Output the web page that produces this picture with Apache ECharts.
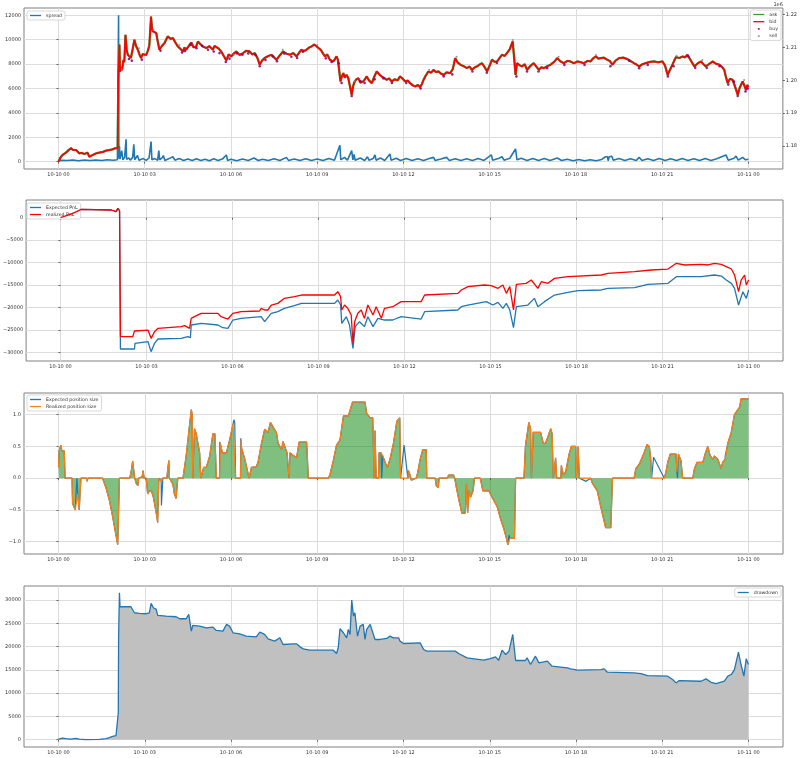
<!DOCTYPE html>
<html><head><meta charset="utf-8">
<script src="https://cdn.jsdelivr.net/npm/echarts@6/dist/echarts.min.js"></script>
<style>html,body{margin:0;padding:0;background:#fff}#c{width:800px;height:758px}</style>
</head><body><div id="c"></div>
<script>
// ---- tick definitions ----
const hourTicks = [0,3,6,9,12,15,18,21,24];
const hourTickLabels = ['10-10 00','10-10 03','10-10 06','10-10 09','10-10 12','10-10 15','10-10 18','10-10 21','10-11 00'];
const spreadTicks = [0,2000,4000,6000,8000,10000,12000];
const priceTicks = [1180000,1190000,1200000,1210000,1220000];
const priceTickLabels = ['1.18','1.19','1.20','1.21','1.22'];
const pnlTicks = [-30000,-25000,-20000,-15000,-10000,-5000,0];
const pnlTickLabels = ['\u221230000','\u221225000','\u221220000','\u221215000','\u221210000','\u22125000','0'];
const posTicks = [-1,-0.5,0,0.5,1];
const posTickLabels = ['\u22121.0','\u22120.5','0.0','0.5','1.0'];
const ddTicks = [0,5000,10000,15000,20000,25000,30000];

// ---- data: [hour since 10-10 00, value] ----
const spread = [[0,60],[0.1,120],[0.3,90],[0.5,140],[0.7,80],[0.9,130],[1.1,90],[1.3,140],[1.5,100],[1.7,150],[1.9,110],[2.05,160],[2.09,12000],[2.10,250],[2.12,1300],[2.14,200],[2.2,900],[2.24,150],[2.3,350],[2.35,1840],[2.37,200],[2.45,300],[2.5,120],[2.58,350],[2.62,1420],[2.65,150],[2.75,500],[2.8,120],[2.95,250],[3.05,100],[3.15,300],[3.22,1640],[3.25,150],[3.35,250],[3.45,120],[3.49,900],[3.52,150],[3.6,300],[3.65,500],[3.7,100],[3.85,250],[3.98,400],[4.05,120],[4.2,260],[4.35,100],[4.5,220],[4.65,90],[4.8,240],[4.95,100],[5.1,200],[5.25,80],[5.4,230],[5.55,100],[5.7,210],[5.84,550],[5.88,100],[6.0,200],[6.2,80],[6.4,220],[6.6,100],[6.8,300],[6.95,90],[7.1,200],[7.3,100],[7.5,230],[7.7,90],[7.93,350],[8.0,100],[8.2,220],[8.4,90],[8.6,240],[8.8,100],[9.0,220],[9.2,90],[9.4,250],[9.6,110],[9.79,1340],[9.82,150],[9.95,350],[10.05,120],[10.2,900],[10.24,150],[10.28,600],[10.32,120],[10.5,300],[10.65,100],[10.75,400],[10.8,120],[10.95,250],[11.01,550],[11.05,120],[11.2,300],[11.35,100],[11.53,630],[11.57,120],[11.75,280],[11.9,100],[12.1,250],[12.3,90],[12.5,230],[12.7,100],[12.9,260],[13.05,350],[13.1,100],[13.3,220],[13.5,350],[13.6,100],[13.8,240],[14.0,90],[14.2,230],[14.4,100],[14.6,250],[14.8,100],[15.06,550],[15.1,120],[15.3,250],[15.43,400],[15.5,120],[15.7,280],[15.9,1040],[15.95,150],[16.1,280],[16.3,100],[16.5,260],[16.7,100],[16.9,250],[17.1,100],[17.35,300],[17.5,90],[17.7,200],[17.9,80],[18.1,180],[18.3,80],[18.5,160],[18.7,80],[18.9,180],[19.03,400],[19.1,400],[19.12,80],[19.16,400],[19.2,400],[19.25,450],[19.3,120],[19.5,250],[19.7,90],[19.9,230],[20.1,100],[20.2,350],[20.3,100],[20.5,240],[20.7,90],[20.9,250],[21.1,100],[21.3,230],[21.5,90],[21.7,250],[21.9,100],[22.1,230],[22.3,90],[22.5,250],[22.7,100],[22.9,240],[23.22,550],[23.3,120],[23.5,280],[23.57,450],[23.65,120],[23.8,350],[23.9,150],[24.0,200]];

const bid = [[0,1175200],[0.07,1176500],[0.14,1177240],[0.2,1177500],[0.26,1177950],[0.35,1178700],[0.43,1179290],[0.5,1178800],[0.55,1178550],[0.62,1178700],[0.72,1177750],[0.80,1177900],[0.90,1177540],[1.01,1177950],[1.07,1176720],[1.12,1177300],[1.19,1177240],[1.30,1177700],[1.42,1177950],[1.55,1178200],[1.65,1178550],[1.75,1178700],[1.88,1178950],[1.97,1179300],[2.06,1179290],[2.08,1200100],[2.12,1210880],[2.14,1202710],[2.18,1204000],[2.21,1203080],[2.26,1206240],[2.29,1205500],[2.33,1213860],[2.37,1209500],[2.41,1207800],[2.46,1207200],[2.52,1206790],[2.58,1209500],[2.64,1212370],[2.70,1210400],[2.76,1209320],[2.82,1207800],[2.87,1206790],[2.93,1208000],[2.99,1208280],[3.05,1207700],[3.10,1208800],[3.16,1210500],[3.22,1219430],[3.25,1216000],[3.28,1214930],[3.34,1215500],[3.40,1214410],[3.46,1211500],[3.51,1209320],[3.60,1210500],[3.69,1211370],[3.75,1212500],[3.80,1213370],[3.90,1212600],[3.98,1212890],[4.06,1211600],[4.15,1210330],[4.24,1209600],[4.33,1208800],[4.38,1210000],[4.44,1209320],[4.52,1210300],[4.62,1211550],[4.70,1210000],[4.79,1210330],[4.85,1211800],[4.91,1211370],[5.02,1210300],[5.14,1209840],[5.25,1210400],[5.37,1209320],[5.43,1210500],[5.49,1210330],[5.58,1209600],[5.66,1208800],[5.75,1207400],[5.84,1206050],[5.92,1207900],[6.01,1207280],[6.10,1208200],[6.19,1208800],[6.30,1207700],[6.42,1208280],[6.53,1209000],[6.65,1208800],[6.74,1207900],[6.83,1208280],[6.92,1206800],[7.00,1204750],[7.08,1206000],[7.17,1206790],[7.30,1207400],[7.41,1207800],[7.50,1207000],[7.58,1206270],[7.70,1207600],[7.81,1208800],[7.93,1208100],[8.05,1207800],[8.17,1208300],[8.28,1207280],[8.37,1208400],[8.45,1209320],[8.54,1208900],[8.63,1209320],[8.72,1210000],[8.80,1210330],[8.90,1210900],[8.98,1210330],[9.05,1209800],[9.12,1209320],[9.20,1208200],[9.27,1207280],[9.35,1207900],[9.44,1206270],[9.50,1206800],[9.56,1205750],[9.62,1206500],[9.67,1207280],[9.72,1206300],[9.77,1205750],[9.81,1199660],[9.86,1201200],[9.91,1202190],[9.96,1200800],[10.02,1201660],[10.08,1200700],[10.14,1200140],[10.20,1195570],[10.24,1197800],[10.28,1199140],[10.35,1200200],[10.43,1200660],[10.50,1199300],[10.60,1199660],[10.66,1200300],[10.72,1201180],[10.80,1200000],[10.90,1199140],[10.98,1201000],[11.07,1202710],[11.15,1201900],[11.24,1201180],[11.33,1200700],[11.42,1200140],[11.50,1200600],[11.59,1199660],[11.70,1200300],[11.80,1200000],[11.88,1201180],[11.97,1200500],[12.06,1199660],[12.15,1199900],[12.23,1199140],[12.32,1198500],[12.41,1198130],[12.50,1198600],[12.58,1197910],[12.64,1198800],[12.70,1200140],[12.78,1201500],[12.87,1202710],[12.96,1202300],[13.05,1203190],[13.13,1202500],[13.22,1202710],[13.31,1202000],[13.40,1201660],[13.50,1202400],[13.63,1202190],[13.72,1203500],[13.80,1206760],[13.88,1205500],[13.98,1204750],[14.10,1204300],[14.21,1203710],[14.30,1204200],[14.38,1203190],[14.47,1203900],[14.56,1204230],[14.65,1204800],[14.73,1205230],[14.82,1204100],[14.91,1202710],[15.00,1204500],[15.08,1206270],[15.17,1205600],[15.26,1205750],[15.35,1206900],[15.43,1207800],[15.52,1207400],[15.60,1208280],[15.70,1209500],[15.80,1211850],[15.85,1207000],[15.90,1201660],[15.95,1205230],[16.04,1204600],[16.13,1204230],[16.22,1204900],[16.30,1203190],[16.42,1204400],[16.53,1205230],[16.62,1204200],[16.71,1203190],[16.80,1204000],[16.88,1203710],[17.00,1204300],[17.12,1204750],[17.24,1205600],[17.35,1206760],[17.46,1205800],[17.58,1205230],[17.70,1205900],[17.81,1205750],[17.93,1205200],[18.05,1205750],[18.17,1205500],[18.28,1205230],[18.40,1205900],[18.51,1205750],[18.60,1206700],[18.69,1207280],[18.78,1206600],[18.86,1206760],[18.98,1206900],[19.09,1206270],[19.18,1205900],[19.27,1204750],[19.38,1206000],[19.50,1206760],[19.65,1206900],[19.79,1206460],[19.90,1205900],[20.02,1205230],[20.11,1204800],[20.20,1204230],[20.31,1204900],[20.43,1205230],[20.58,1205600],[20.72,1205750],[20.86,1205500],[21.01,1205750],[21.10,1204500],[21.19,1201660],[21.28,1203300],[21.36,1204750],[21.42,1206000],[21.48,1207050],[21.60,1206800],[21.71,1207280],[21.80,1207000],[21.88,1207800],[22.00,1206000],[22.12,1204230],[22.24,1205200],[22.35,1205750],[22.44,1204900],[22.52,1204230],[22.64,1205000],[22.76,1205750],[22.88,1205000],[22.99,1204750],[23.08,1204100],[23.16,1203190],[23.22,1201000],[23.28,1199140],[23.36,1200500],[23.45,1200140],[23.54,1198000],[23.63,1195570],[23.70,1197800],[23.80,1199660],[23.86,1198400],[23.92,1197000],[23.96,1198600],[24.0,1197910]];

const buyMarks = [[2.45,1206500],[2.55,1206000],[2.9,1206300],[3.55,1209000],[4.3,1208500],[4.4,1208900],[4.6,1210800],[4.8,1209800],[5.0,1210500],[5.2,1209300],[5.4,1208800],[5.6,1208300],[5.82,1205600],[5.95,1206600],[6.2,1208200],[6.4,1207800],[6.6,1208200],[6.85,1207700],[7.0,1204300],[7.2,1206200],[7.45,1207300],[7.6,1205800],[7.85,1208200],[8.1,1207200],[8.3,1206800],[8.5,1208700],[9.3,1206700],[9.5,1205600],[9.75,1205200],[9.85,1199200],[10.2,1195200],[10.5,1199800],[10.65,1199200],[11.0,1200300],[11.3,1200600],[11.6,1199200],[12.1,1199200],[12.6,1197500],[13.4,1201200],[13.7,1201800],[14.4,1202700],[14.9,1202300],[15.25,1205300],[15.93,1201200],[16.3,1202700],[16.7,1202700],[17.0,1203700],[17.6,1204700],[18.3,1204700],[19.2,1204300],[19.85,1206000],[20.2,1203700],[20.5,1204700],[21.2,1201200],[21.4,1204300],[21.9,1207300],[22.15,1203800],[22.55,1203800],[23.0,1204300],[23.3,1198700],[23.5,1199600],[23.63,1195200],[23.9,1196600],[23.98,1197500]];
const sellMarks = [[2.2,1203500],[2.8,1209800],[3.3,1215300],[4.2,1210800],[6.1,1207800],[7.8,1209300],[9.0,1210800],[10.3,1199700],[12.9,1203200],[13.85,1207200],[15.8,1212300],[17.4,1207200],[18.7,1207700],[21.5,1207500],[22.4,1206200],[23.85,1200100]];

const expectedPnl = [[0,0],[0.26,590],[0.43,970],[0.72,1860],[1.77,1710],[1.94,1340],[2.00,2080],[2.06,1560],[2.09,-29260],[2.58,-29260],[2.60,-28000],[3.05,-27620],[3.16,-29850],[3.28,-28000],[3.40,-27030],[4.21,-26880],[4.44,-26510],[4.53,-26730],[4.56,-23910],[4.91,-23540],[5.49,-23910],[5.66,-24510],[5.84,-24650],[6.01,-22800],[6.30,-22430],[7.00,-22060],[7.12,-23170],[7.35,-21310],[7.58,-20940],[7.81,-20200],[8.16,-19600],[8.40,-19090],[9.56,-19090],[9.67,-18340],[9.77,-19460],[9.81,-23540],[9.97,-22060],[10.08,-23910],[10.20,-29110],[10.28,-24280],[10.43,-23170],[10.60,-24280],[10.72,-22060],[10.90,-24280],[11.07,-22430],[11.30,-22800],[11.59,-22800],[11.88,-22060],[12.58,-22580],[12.70,-20940],[13.86,-20570],[13.98,-19830],[14.21,-19460],[14.85,-18710],[15.08,-19460],[15.26,-18860],[15.43,-20200],[15.55,-19090],[15.67,-20570],[15.80,-24510],[15.90,-19830],[16.30,-19460],[16.53,-17970],[16.65,-19830],[16.88,-18710],[17.23,-17230],[17.70,-16630],[18.05,-16260],[18.86,-16110],[19.09,-15740],[20.02,-15590],[20.49,-14850],[21.19,-14630],[21.48,-13140],[22.35,-13140],[22.81,-12770],[23.05,-13000],[23.22,-13890],[23.40,-14630],[23.51,-15740],[23.65,-19460],[23.80,-16490],[23.92,-17970],[24.0,-16110]];

const realizedPnl = [[0,0],[0.26,590],[0.43,970],[0.72,1860],[1.77,1710],[1.94,1340],[2.00,2080],[2.06,1560],[2.09,-26510],[2.52,-26510],[2.58,-25250],[3.05,-25030],[3.16,-26880],[3.28,-25400],[3.40,-24650],[4.21,-24280],[4.33,-24060],[4.50,-24650],[4.56,-22430],[4.67,-22060],[4.91,-21310],[5.49,-21310],[5.60,-22060],[5.84,-22580],[6.01,-21310],[6.30,-20940],[6.94,-20790],[7.00,-20200],[7.12,-20570],[7.23,-20570],[7.35,-19460],[7.58,-19090],[7.81,-17970],[8.16,-17600],[8.40,-17230],[9.56,-17230],[9.67,-16490],[9.77,-17600],[9.81,-20570],[9.91,-19460],[10.02,-20200],[10.14,-21680],[10.20,-28000],[10.26,-23170],[10.37,-21310],[10.49,-20570],[10.60,-22430],[10.72,-19460],[10.90,-21680],[11.01,-19830],[11.19,-22430],[11.30,-20200],[11.59,-19830],[11.88,-18710],[12.58,-18710],[12.70,-17230],[13.86,-16860],[13.98,-16110],[14.21,-15370],[14.79,-15000],[15.02,-15150],[15.26,-15740],[15.43,-15000],[15.55,-16860],[15.67,-15370],[15.80,-20570],[15.90,-14850],[16.24,-14630],[16.42,-13890],[16.65,-15740],[16.77,-14260],[17.00,-14630],[17.23,-13520],[17.70,-13140],[18.86,-12770],[19.09,-12400],[20.02,-12030],[20.60,-11660],[21.19,-11440],[21.48,-10170],[21.77,-10540],[22.35,-10400],[22.58,-10540],[22.81,-10170],[23.05,-10400],[23.22,-10920],[23.40,-11440],[23.51,-12770],[23.65,-16490],[23.74,-13890],[23.86,-12770],[23.92,-15000],[24.0,-13890]];

const realizedPos = [[0.00,0.17],[0.02,0.43],[0.08,0.52],[0.12,0.43],[0.16,0.45],[0.20,0.43],[0.23,0],[0.47,0],[0.49,-0.4],[0.58,-0.5],[0.63,-0.5],[0.67,-0.25],[0.72,-0.5],[0.76,-0.5],[0.78,0],[0.98,0],[1.00,-0.05],[1.02,0],[1.53,0],[1.65,-0.15],[1.77,-0.35],[1.88,-0.6],[2.00,-0.9],[2.06,-1.05],[2.09,-1.07],[2.12,0],[2.47,0],[2.52,0.08],[2.58,0.27],[2.63,0.27],[2.65,0],[2.70,-0.08],[2.76,-0.12],[2.79,0],[2.91,0.02],[2.94,0.12],[2.98,0],[3.05,0],[3.10,-0.25],[3.16,-0.2],[3.23,-0.2],[3.30,-0.3],[3.40,-0.55],[3.45,-0.7],[3.49,0],[3.57,-0.05],[3.63,0],[3.77,0],[3.80,0.15],[3.84,0.28],[3.86,0],[3.92,-0.05],[3.98,-0.1],[4.03,-0.25],[4.09,-0.32],[4.15,0],[4.33,0],[4.44,0.35],[4.56,0.85],[4.62,1.08],[4.65,1.0],[4.67,0],[4.73,0.78],[4.79,0.7],[4.85,0.55],[4.91,0.4],[4.95,0],[5.05,0.17],[5.14,0.17],[5.26,0.35],[5.37,0.7],[5.44,0.7],[5.49,0],[5.60,0],[5.63,0.55],[5.66,0.55],[5.70,0.4],[5.84,0.4],[5.95,0.6],[6.07,0.85],[6.13,0.88],[6.16,0],[6.33,0],[6.35,0.6],[6.37,0.47],[6.48,0.3],[6.59,0.08],[6.63,0],[6.67,0],[6.71,0.17],[6.88,0.18],[6.94,0.25],[7.06,0.55],[7.17,0.77],[7.29,0.72],[7.37,0.88],[7.47,0.8],[7.58,0.72],[7.64,0.55],[7.76,0.45],[7.81,0.58],[7.91,0.45],[7.95,0.4],[8.00,0.4],[8.02,0],[8.05,0.4],[8.16,0.36],[8.22,0.33],[8.28,0.32],[8.37,0.57],[8.63,0.57],[8.69,0],[9.38,0],[9.44,0.05],[9.56,0.28],[9.67,0.52],[9.79,0.6],[9.91,0.98],[10.08,0.98],[10.23,1.2],[10.66,1.2],[10.72,1.02],[10.84,0.95],[10.93,0.95],[10.98,0],[11.01,0.75],[11.05,0],[11.13,0],[11.15,0.4],[11.22,0.4],[11.28,0.35],[11.36,0.25],[11.44,0.17],[11.53,0.3],[11.65,0.55],[11.77,0.9],[11.87,0.95],[11.90,0],[12.15,0],[12.17,0.12],[12.23,0.05],[12.27,-0.03],[12.33,0],[12.44,0],[12.49,0.08],[12.58,0.3],[12.67,0.45],[12.79,0.45],[12.81,0],[13.10,0],[13.14,-0.12],[13.21,-0.15],[13.24,0],[13.53,0],[13.57,0.05],[13.74,0.05],[13.78,0],[13.84,-0.15],[13.92,-0.33],[14.03,-0.55],[14.15,-0.55],[14.19,-0.1],[14.23,-0.55],[14.28,-0.2],[14.33,-0.3],[14.38,-0.3],[14.42,-0.2],[14.47,0],[14.67,0],[14.76,-0.2],[14.97,-0.2],[15.08,-0.3],[15.26,-0.45],[15.38,-0.65],[15.49,-0.8],[15.58,-0.95],[15.63,-1.05],[15.70,-0.95],[15.86,-0.95],[15.90,0],[16.19,0],[16.24,0.5],[16.36,0.88],[16.42,0.78],[16.45,0],[16.51,0.72],[16.77,0.72],[16.86,0.55],[16.94,0.55],[17.02,0.65],[17.12,0.78],[17.17,0.7],[17.21,0],[17.27,0],[17.29,0.32],[17.33,0],[17.47,0],[17.49,0.2],[17.56,0.05],[17.64,0.1],[17.76,0.38],[17.84,0.5],[17.99,0.5],[18.01,0],[18.05,0],[18.07,0.5],[18.12,0],[18.51,0],[18.57,-0.08],[18.63,-0.05],[18.74,-0.2],[18.86,-0.45],[18.98,-0.68],[19.03,-0.78],[19.21,-0.78],[19.27,0],[20.02,0],[20.08,0.15],[20.20,0.22],[20.26,0.25],[20.37,0.4],[20.47,0.53],[20.55,0.5],[20.60,0.3],[20.63,0],[21.07,0],[21.13,0.1],[21.19,0.25],[21.28,0.38],[21.48,0.38],[21.51,0.1],[21.56,0.38],[21.65,0.28],[21.71,0],[22.06,0],[22.12,0.15],[22.21,0.25],[22.41,0.25],[22.49,0.38],[22.58,0.5],[22.67,0.35],[22.76,0.3],[22.81,0.35],[22.93,0.3],[23.05,0.15],[23.10,0.25],[23.19,0.3],[23.28,0.55],[23.40,0.72],[23.51,1.0],[23.69,1.12],[23.74,1.25],[24.0,1.25]];

// points where the expected size differs from the realized one
const expectedPosSpikes = [[0.51,-0.42],[0.64,0],[3.58,-0.43],[4.74,0.8],[5.61,0.57],[6.10,0.92],[6.34,0.63],[11.03,0.76],[11.24,0],[12.02,0.52],[15.27,-0.42],[15.67,-0.9],[18.35,-0.05],[18.58,-0.1],[20.70,0.33],[21.53,0],[22.83,0.38],[23.19,0.35]];

const drawdown = [[0.00,140],[0.14,360],[0.26,220],[0.43,140],[0.60,290],[0.72,140],[0.95,0],[1.42,70],[1.65,220],[1.77,430],[1.88,720],[2.00,860],[2.06,720],[2.08,5740],[2.09,21890],[2.12,31580],[2.14,28560],[2.52,28560],[2.58,28850],[2.64,27270],[2.81,27130],[3.05,27060],[3.16,27270],[3.22,29280],[3.30,28350],[3.40,27990],[3.45,26700],[3.74,26550],[4.09,26410],[4.21,25980],[4.44,25980],[4.53,26910],[4.62,23330],[4.67,24550],[4.91,24400],[5.14,24040],[5.37,24190],[5.49,23470],[5.72,23330],[5.84,24760],[5.95,24400],[6.07,22970],[6.30,22750],[6.53,22250],[6.88,22110],[7.00,23110],[7.17,22610],[7.29,21670],[7.52,21170],[7.70,21890],[7.81,20450],[8.16,20600],[8.28,20600],[8.40,19950],[8.51,19520],[8.74,19230],[9.56,19230],[9.62,19520],[9.67,18520],[9.73,19740],[9.79,23830],[9.91,22970],[10.02,21890],[10.08,23680],[10.14,22610],[10.20,30000],[10.26,26550],[10.31,27270],[10.40,22250],[10.49,24400],[10.60,24760],[10.66,21530],[10.72,23680],[10.84,24760],[10.90,24760],[11.01,21530],[11.19,21530],[11.42,21750],[11.53,22250],[11.65,21890],[11.83,21890],[11.88,21170],[12.0,20670],[12.58,20810],[12.70,19380],[12.81,19020],[13.80,19020],[13.92,18520],[14.21,17580],[14.79,17080],[15.02,17440],[15.20,17800],[15.31,17080],[15.43,19230],[15.55,18300],[15.67,19020],[15.80,22610],[15.90,17010],[16.24,17010],[16.30,17580],[16.42,16150],[16.59,17940],[16.71,16510],[17.00,16870],[17.17,15790],[17.70,15430],[17.81,15220],[18.05,14930],[18.86,15070],[18.98,15220],[19.09,14500],[20.02,14350],[20.26,14210],[20.49,13780],[21.19,13640],[21.36,12920],[21.48,12200],[21.59,12700],[22.35,12560],[22.52,13060],[22.70,12340],[22.87,12060],[23.16,12560],[23.28,13640],[23.40,14000],[23.51,15070],[23.65,18800],[23.74,16150],[23.84,13640],[23.92,17370],[24.0,16150]];

// expected position = realized with the differing points merged in by time
const expectedPos = realizedPos.concat(expectedPosSpikes).sort((a,b)=>a[0]-b[0]);

// ---- styling helpers ----
const FONT = 'DejaVu Sans';
const LINE_ICON = 'path://M0,0M11,4M0,1.35h11v1.3h-11z';
const DOT_ICON = 'path://M0,0M11,4M4.6,1.1h1.8v1.8h-1.8z';
const gridBoxes = [
  {left:24, top:8, width:759, height:161},
  {left:24, top:200, width:759, height:161},
  {left:24, top:393, width:759, height:161},
  {left:24, top:586, width:759, height:161}
];
function lab(ticks, labels){
  return v => { const i = ticks.findIndex(t => Math.abs(t - v) < 1e-6); return i >= 0 ? labels[i] : ''; };
}
function xAxisFor(gi){
  return {type:'value', gridIndex:gi, min:-1.2, max:25.2,
    axisLine:{show:false},
    axisTick:{show:true, customValues:hourTicks, length:2, lineStyle:{color:'#444', width:0.8}},
    axisLabel:{customValues:hourTicks, formatter:lab(hourTicks, hourTickLabels), fontSize:5, color:'#333', margin:3, fontFamily:FONT},
    splitLine:{show:true, lineStyle:{color:'#dcdcdc', width:1}}};
}
function yAxisFor(gi, min, max, ticks, labels, pos, grid){
  return {type:'value', gridIndex:gi, min:min, max:max, position:pos||'left',
    axisLine:{show:false},
    axisTick:{show:true, customValues:ticks, length:2, lineStyle:{color:'#444', width:0.8}},
    axisLabel:{customValues:ticks, formatter:lab(ticks, labels), fontSize:5, color:'#333', margin:3, fontFamily:FONT},
    splitLine:{show:grid !== false, lineStyle:{color:'#dcdcdc', width:1}}};
}
const legendBase = {backgroundColor:'#fff', borderColor:'#cfcfcf', borderWidth:0.8, borderRadius:2,
  padding:[2,3], itemGap:2, itemWidth:11, itemHeight:4, orient:'vertical', align:'left', icon:LINE_ICON,
  textStyle:{fontSize:4.7, color:'#333', fontFamily:FONT}};

const priceAxis = yAxisFor(0, 1172970, 1222040, priceTicks, priceTickLabels, 'right', false);
priceAxis.name = '1e6';
priceAxis.nameLocation = 'end';
priceAxis.nameGap = 1;
priceAxis.nameTextStyle = {fontSize:5, color:'#333', fontFamily:FONT, align:'right', verticalAlign:'bottom'};

const option = {
  animation:false,
  backgroundColor:'#fff',
  grid: gridBoxes.map(g => Object.assign({show:true, borderColor:'#808080', borderWidth:1, backgroundColor:'transparent'}, g)),
  xAxis: [xAxisFor(0), xAxisFor(1), xAxisFor(2), xAxisFor(3)],
  yAxis: [
    yAxisFor(0, -603, 12603, spreadTicks, spreadTicks.map(String)),
    priceAxis,
    yAxisFor(1, -31930, 3940, pnlTicks, pnlTickLabels),
    yAxisFor(2, -1.195, 1.342, posTicks, posTickLabels),
    yAxisFor(3, -1570, 33020, ddTicks, ddTicks.map(String))
  ],
  legend: [
    Object.assign({}, legendBase, {left:27, top:11, data:['spread']}),
    Object.assign({}, legendBase, {right:19, top:10, data:['ask','bid',{name:'buy', icon:DOT_ICON},{name:'sell', icon:DOT_ICON}], itemGap:2.2}),
    Object.assign({}, legendBase, {left:27, top:203, data:['Expected PnL','realized PnL']}),
    Object.assign({}, legendBase, {left:27, top:395, data:['Expected position size','Realized position size']}),
    Object.assign({}, legendBase, {right:19, top:588, data:['drawdown']})
  ],
  series: [
    {name:'spread', type:'line', xAxisIndex:0, yAxisIndex:0, data:spread, symbol:'none', color:'#1f77b4', lineStyle:{width:1.6}, z:2},
    {name:'ask', type:'line', xAxisIndex:0, yAxisIndex:1, data:bid, symbol:'none', color:'#3c9a3c', lineStyle:{width:2.3}, z:3},
    {name:'bid', type:'line', xAxisIndex:0, yAxisIndex:1, data:bid, symbol:'none', color:'#ff0000', lineStyle:{width:1.7}, z:4},
    {name:'buy', type:'scatter', xAxisIndex:0, yAxisIndex:1, data:buyMarks, symbol:'circle', symbolSize:2.6, itemStyle:{color:'#800080', opacity:0.85}, z:5},
    {name:'sell', type:'scatter', xAxisIndex:0, yAxisIndex:1, data:sellMarks, symbol:'circle', symbolSize:2, itemStyle:{color:'#808080'}, z:5},

    {name:'Expected PnL', type:'line', xAxisIndex:1, yAxisIndex:2, data:expectedPnl, symbol:'none', color:'#1f77b4', lineStyle:{width:1.3}, z:3},
    {name:'realized PnL', type:'line', xAxisIndex:1, yAxisIndex:2, data:realizedPnl, symbol:'none', color:'#ff0000', lineStyle:{width:1.3}, z:4},

    {name:'fill', type:'line', xAxisIndex:2, yAxisIndex:3, data:realizedPos, symbol:'none', lineStyle:{width:0, opacity:0}, areaStyle:{color:'rgba(0,128,0,0.5)', opacity:1}, z:1, silent:true},
    {name:'Expected position size', type:'line', xAxisIndex:2, yAxisIndex:3, data:expectedPos, symbol:'none', color:'#1f77b4', lineStyle:{width:1.2}, z:3},
    {name:'Realized position size', type:'line', xAxisIndex:2, yAxisIndex:3, data:realizedPos, symbol:'none', color:'#ff7f0e', lineStyle:{width:1.2}, z:4},

    {name:'drawdown', type:'line', xAxisIndex:3, yAxisIndex:4, data:drawdown, symbol:'none', color:'#1f77b4', lineStyle:{width:1.3}, areaStyle:{color:'#c0c0c0', opacity:1}, z:3}
  ]
};
const chart = echarts.init(document.getElementById('c'), null, {renderer:'canvas'});
chart.setOption(option);
</script>
</body></html>
